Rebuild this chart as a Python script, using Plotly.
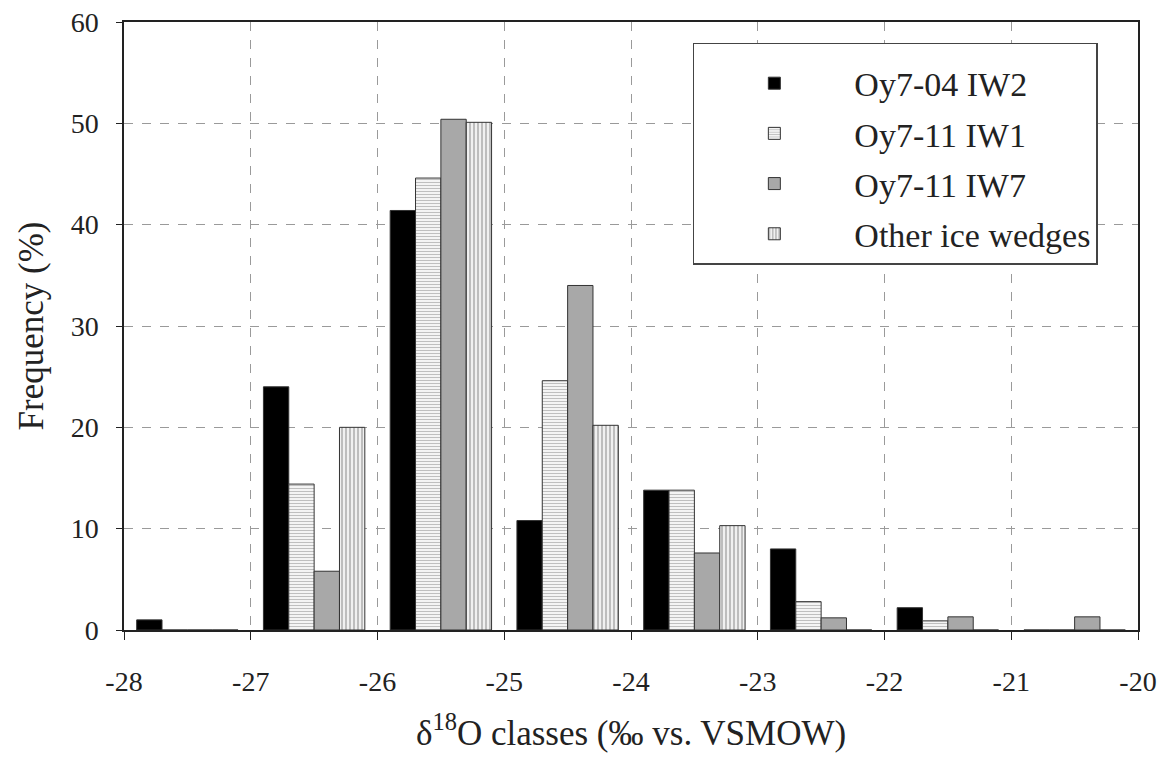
import plotly.graph_objects as go

class_centers = [-27.5, -26.5, -25.5, -24.5, -23.5, -22.5, -21.5, -20.5]
series_names = ["Oy7-04 IW2", "Oy7-11 IW1", "Oy7-11 IW7", "Other ice wedges"]
iw2 = [1.0, 24.0, 41.4, 10.8, 13.8, 8.0, 2.2, 0.0]
iw1 = [0.0, 14.4, 44.6, 24.6, 13.8, 2.8, 0.9, 0.0]
iw7 = [0.0, 5.8, 50.4, 34.0, 7.6, 1.2, 1.3, 1.3]
other = [0.0, 20.0, 50.1, 20.2, 10.3, 0.0, 0.0, 0.0]
x_ticks = [-28, -27, -26, -25, -24, -23, -22, -21, -20]
y_ticks = [0, 10, 20, 30, 40, 50, 60]

FONT = "Liberation Serif"
line = dict(color="#333333", width=1)

fig = go.Figure()
fig.add_trace(go.Bar(x=class_centers, y=iw2, name=series_names[0], legendgroup="a",
                     marker=dict(color="black", line=line)))
fig.add_trace(go.Bar(x=class_centers, y=iw1, name=series_names[1], legendgroup="b",
                     marker=dict(color="white", line=line,
                                 pattern=dict(shape="-", size=3, solidity=0.35,
                                              fgcolor="#8a8a8a", bgcolor="#f4f4f4",
                                              fillmode="overlay"))))
fig.add_trace(go.Bar(x=class_centers, y=iw7, name=series_names[2], legendgroup="c",
                     marker=dict(color="#a8a8a8", line=line)))
fig.add_trace(go.Bar(x=class_centers, y=other, name=series_names[3], legendgroup="d",
                     marker=dict(color="white", line=line,
                                 pattern=dict(shape="|", size=4, solidity=0.4,
                                              fgcolor="#707070", bgcolor="#f0f0f0",
                                              fillmode="overlay"))))

# page body has an 8px margin, so the figure is sized/offset to fit the window
fig.update_layout(
    width=1151, height=745,
    margin=dict(l=116, r=21, t=14, b=123, autoexpand=False),
    paper_bgcolor="white", plot_bgcolor="white",
    barmode="group", bargap=0.2, bargroupgap=0,
    font=dict(family=FONT, color="#222222", size=28),
    legend=dict(x=0.561, y=0.966, xanchor="left", yanchor="top",
                bordercolor="#444444", borderwidth=1.5, bgcolor="white",
                font=dict(family=FONT, size=34, color="#222222"),
                tracegroupgap=3, itemwidth=150,
                title=dict(text=" ", font=dict(size=8))),
)
fig.update_xaxes(range=[-28, -20], tickvals=x_ticks, ticktext=[str(v) for v in x_ticks],
                 showgrid=True, gridcolor="#9a9a9a", griddash="dash", gridwidth=1,
                 showline=True, linecolor="#222222", linewidth=1.5, mirror=True,
                 ticks="outside", ticklen=8, tickcolor="#222222",
                 ticklabelstandoff=18, automargin=False, ticklabeloverflow="allow",
                 tickfont=dict(family=FONT, size=28),
                 title=dict(text="δ<sup>18</sup>O classes (‰ vs. VSMOW)",
                            font=dict(family=FONT, size=35), standoff=28),
                 zeroline=False)
fig.update_yaxes(range=[0, 60], tickvals=y_ticks,
                 showgrid=True, gridcolor="#9a9a9a", griddash="dash", gridwidth=1,
                 showline=True, linecolor="#222222", linewidth=1.5, mirror=True,
                 ticks="outside", ticklen=6, tickcolor="#222222",
                 ticklabelstandoff=12, automargin=False, ticklabeloverflow="allow",
                 tickfont=dict(family=FONT, size=28),
                 title=dict(text="Frequency (%)", font=dict(family=FONT, size=35), standoff=16),
                 zeroline=False)

fig.write_html("out.html")
